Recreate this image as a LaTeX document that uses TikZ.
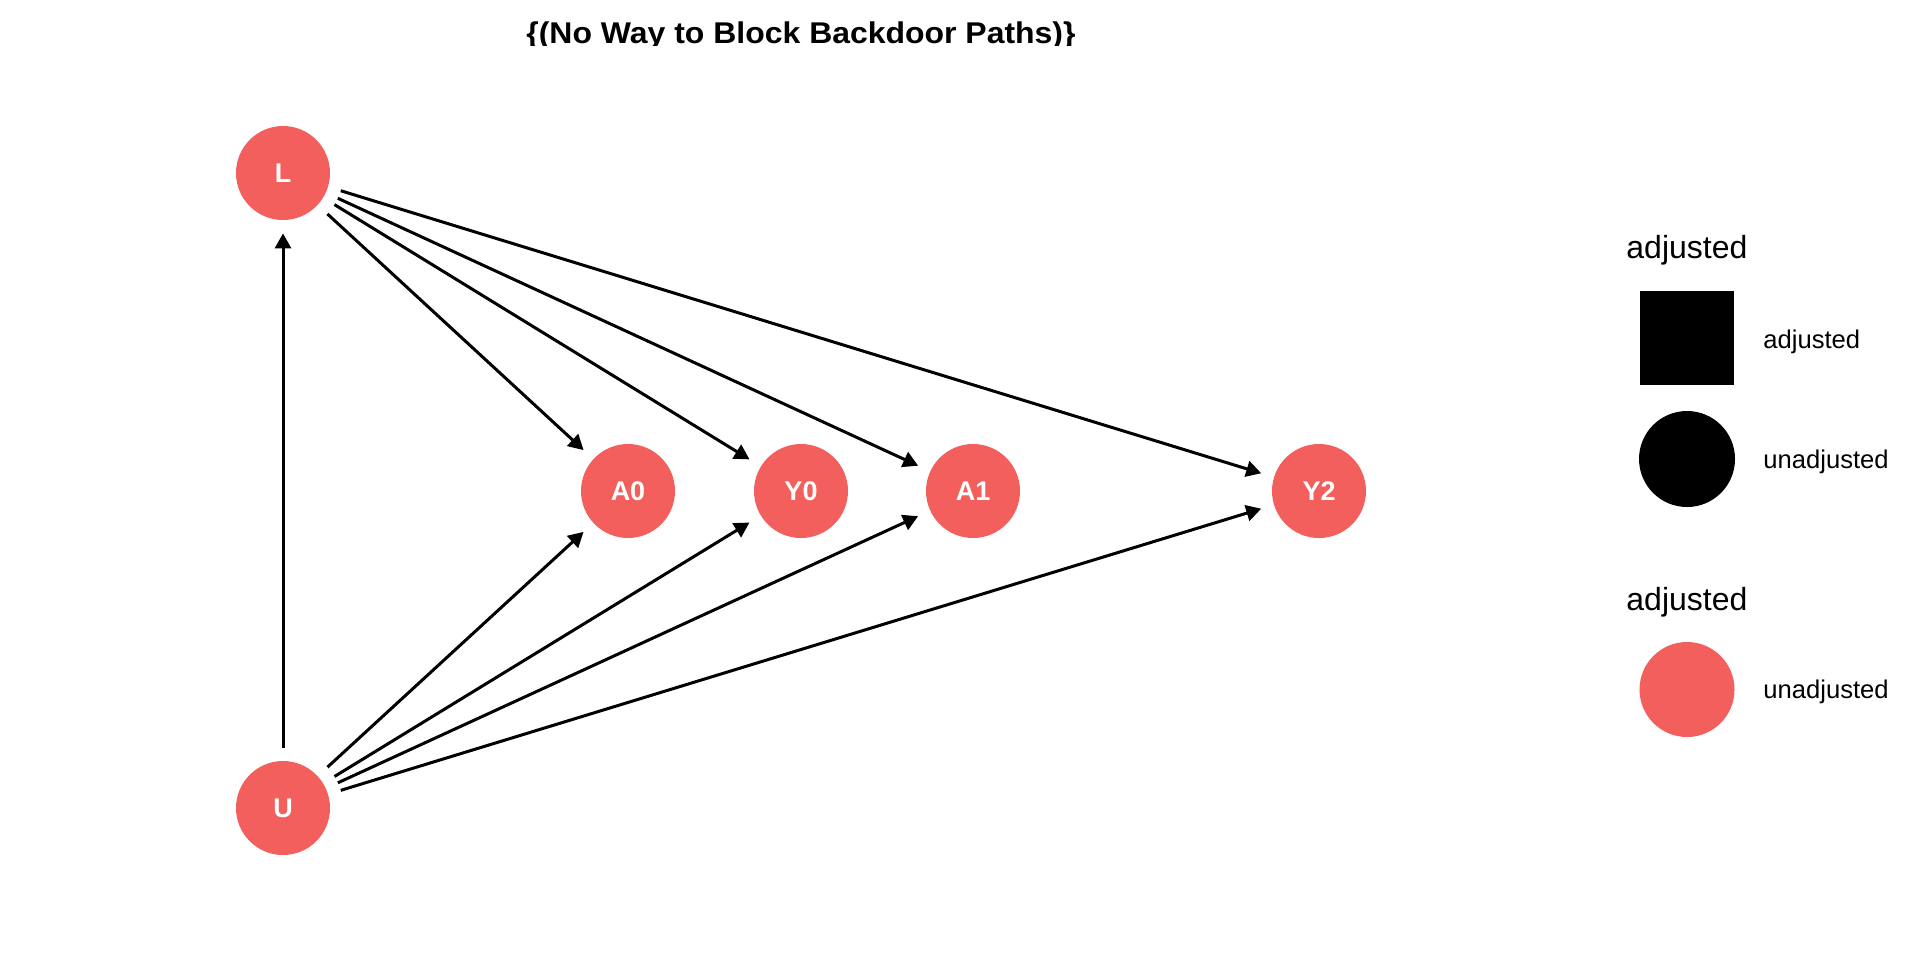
\documentclass[tikz,border=0pt]{standalone}
\usepackage{fontspec}
\setmainfont{Liberation Sans}
\usetikzlibrary{arrows.meta}
\definecolor{nodered}{HTML}{F35F5C}
\tikzset{
  dagnode/.style={circle, fill=nodered, inner sep=0pt, minimum size=47pt, text=white, font=\fontsize{13.5}{16}\selectfont\bfseries},
  edge/.style={line width=1.5pt, -{Triangle[length=7.5pt,width=8pt]}, shorten >=6.5pt, shorten <=6.5pt},
  legtitle/.style={anchor=base west, inner sep=0pt, font=\fontsize{16}{19}\selectfont},
  leglabel/.style={anchor=base west, inner sep=0pt, font=\fontsize{12.8}{15}\selectfont},
}
\begin{document}
\begin{tikzpicture}[x=0.5pt, y=-0.5pt]
\useasboundingbox (0,0) rectangle (1920,960);
\begin{scope}
  \clip (0,0) rectangle (1920,45.5);
  \node[anchor=base, inner sep=0pt, font=\fontsize{15}{18}\selectfont\bfseries] (title) at (801,43.5) {\scalebox{1.065}[1]{\{(No Way to Block Backdoor Paths)\}}};
\end{scope}
% nodes
\node[dagnode] (L) at (283,173) {L};
\node[dagnode] (U) at (283,808) {U};
\node[dagnode] (A0) at (628,491) {A0};
\node[dagnode] (Y0) at (801,491) {Y0};
\node[dagnode] (A1) at (973,491) {A1};
\node[dagnode] (Y2) at (1319,491) {Y2};
% edges
\draw[edge] (U) -- (L);
\draw[edge] (L) -- (A0);
\draw[edge] (L) -- (Y0);
\draw[edge] (L) -- (A1);
\draw[edge] (L) -- (Y2);
\draw[edge] (U) -- (A0);
\draw[edge] (U) -- (Y0);
\draw[edge] (U) -- (A1);
\draw[edge] (U) -- (Y2);
% legend
\node[legtitle] (lt1) at (1626,258.6) {adjusted};
\node[fill=black, inner sep=0pt, minimum size=47pt] (lsq) at (1687,338) {};
\node[leglabel] (ll1) at (1763,348) {adjusted};
\node[circle, fill=black, inner sep=0pt, minimum size=48pt] (lci) at (1687,459) {};
\node[leglabel] (ll2) at (1763,468.7) {unadjusted};
\node[legtitle] (lt2) at (1626,610) {adjusted};
\node[circle, fill=nodered, inner sep=0pt, minimum size=47.5pt] (lrc) at (1687,689.5) {};
\node[leglabel] (ll3) at (1763,698.7) {unadjusted};
\end{tikzpicture}
\end{document}
